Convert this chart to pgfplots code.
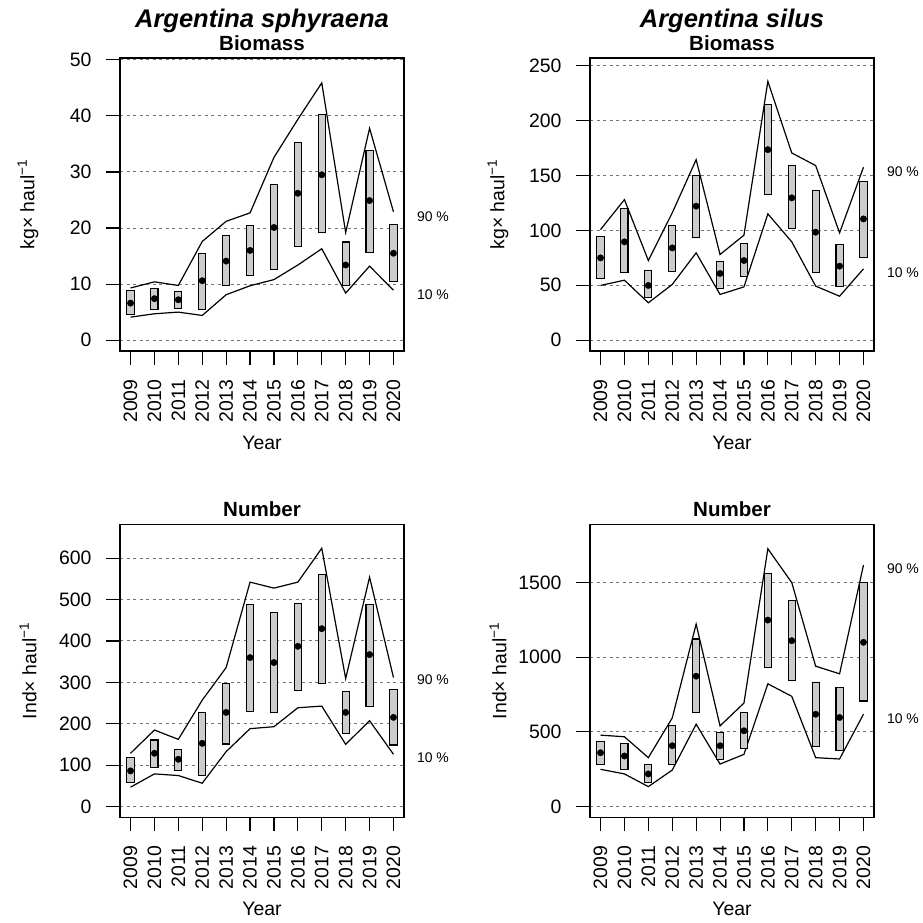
\documentclass[border=0pt]{standalone}
\usepackage{fontspec}
\setmainfont{Liberation Sans}
\usepackage{pgfplots}
\usepackage{pgfplotstable}
\pgfplotsset{compat=1.18}

\definecolor{boxgray}{gray}{0.8}
\definecolor{gridgray}{gray}{0.45}

% box from lower (#2) to upper (#3) value at category position #1 (0 = 2009)
\newcommand{\bx}[3]{%
  \pgfmathsetmacro\xl{#1-0.15}\pgfmathsetmacro\xr{#1+0.15}%
  \addplot[draw=black, line width=1.1bp, fill=boxgray, mark=none]
    coordinates {(\xl,#2) (\xr,#2) (\xr,#3) (\xl,#3)} --cycle;}

% i: 0=2009 ... 11=2020
\pgfplotstableread{
i mid p10 p90
0 6.6 4.1 9.3
1 7.4 4.7 10.4
2 7.2 5.0 9.75
3 10.6 4.4 17.6
4 14.1 8.1 21.2
5 16.0 9.7 22.7
6 20.1 10.8 32.6
7 26.2 13.4 39.4
8 29.5 16.3 45.9
9 13.4 8.4 19.2
10 24.9 13.2 37.8
11 15.5 8.9 22.9
}\tA
\pgfplotstableread{
i mid p10 p90
0 74.9 49.8 100.7
1 89.5 54.6 128.0
2 49.8 34.0 72.5
3 84.0 50.7 115.9
4 122.0 79.5 164.4
5 60.7 41.6 78.0
6 72.5 48.5 95.6
7 173.5 115.0 235.7
8 129.6 89.5 170.5
9 98.3 49.2 159.0
10 67.4 40.0 97.7
11 110.4 64.9 157.5
}\tB
\pgfplotstableread{
i mid p10 p90
0 86 46.6 128.5
1 128.5 78.7 184.7
2 114 74.7 162.2
3 152.6 56.2 257
4 227.3 132.5 335.7
5 359.8 188 542.2
6 347.8 192.8 527.7
7 387.1 238.6 542.2
8 429.7 242.6 624.1
9 227.3 150.2 309.2
10 367.1 207.2 554.2
11 215.3 126.1 311.6
}\tC
\pgfplotstableread{
i mid p10 p90
0 360 249 478
1 338 218 467
2 218 133 327
3 407 244 593
4 873 551 1222
5 407 284 540
6 507 349 693
7 1249 822 1727
8 1111 738 1500
9 618 327 940
10 596 318 889
11 1100 618 1618
}\tD

\pgfplotsset{
  panel/.style={
    width=284bp, height=293bp, scale only axis,
    xmin=-0.44, xmax=11.44,
    xtick={0,...,11},
    xticklabels={2009,2010,2011,2012,2013,2014,2015,2016,2017,2018,2019,2020},
    tick align=outside, major tick length=14bp,
    xtick pos=left, ytick pos=left,
    axis line style={line width=1.1bp},
    every tick/.style={black, line width=1.1bp},
    ymajorgrids,
    major grid style={gridgray, dash pattern=on 3bp off 3.5bp, line width=1bp},
    tick label style={font=\fontsize{19.5}{20}\selectfont},
    yticklabel style={xshift=-11bp},
    xticklabel style={yshift=-11bp, rotate=90, anchor=east},
    /pgf/number format/1000 sep={},
    /pgf/number format/assume math mode=true,
    label style={font=\fontsize{19.5}{22}\selectfont},
    xlabel={Year},
    xlabel style={at={(0.5,-0.314)}, anchor=center},
    ylabel style={at={(-0.324,0.5)}, anchor=center},
    title style={at={(0.5,1.031)}, anchor=center, inner sep=0pt,
      font=\bfseries\fontsize{20.6}{22}\selectfont},
    clip=false,
  },
  pline/.style={black, line width=1.2bp, mark=none},
  pdot/.style={black, only marks, mark=*, mark size=3.2bp},
}
\newcommand{\pct}[2]{%
  \node[font=\fontsize{14}{16}\selectfont] at (axis cs:12.65,#1) {90 \%};
  \node[font=\fontsize{14}{16}\selectfont] at (axis cs:12.65,#2) {10 \%};}
\newcommand{\species}[1]{%
  \node[inner sep=0pt, font=\bfseries\itshape\fontsize{25.6}{28}\selectfont]
    at (rel axis cs:0.5,1.128) {#1};}

\begin{document}
\begin{tikzpicture}
\useasboundingbox (0,0) rectangle (923bp,923bp);

% Panel 1
\begin{axis}[panel, at={(120bp,572bp)}, anchor=south west,
  ymin=-1.94, ymax=50.34, ytick={0,10,...,50},
  title={Biomass}, ylabel={kg× haul\textsuperscript{−1}}]
\addplot[pline] table[x=i,y=p90] {\tA};
\addplot[pline] table[x=i,y=p10] {\tA};
\bx{0}{4.5}{8.9}
\bx{1}{5.4}{9.2}
\bx{2}{5.7}{8.6}
\bx{3}{5.4}{15.5}
\bx{4}{9.7}{18.6}
\bx{5}{11.5}{20.4}
\bx{6}{12.6}{27.8}
\bx{7}{16.7}{35.2}
\bx{8}{19.2}{40.2}
\bx{9}{9.7}{17.5}
\bx{10}{15.7}{33.9}
\bx{11}{10.4}{20.7}
\addplot[pdot] table[x=i,y=mid] {\tA};
\pct{22.1}{8.1}
\species{Argentina sphyraena}
\end{axis}

% Panel 2
\begin{axis}[panel, at={(590bp,572bp)}, anchor=south west,
  ymin=-9.9, ymax=257, ytick={0,50,...,250},
  title={Biomass}, ylabel={kg× haul\textsuperscript{−1}}]
\addplot[pline] table[x=i,y=p90] {\tB};
\addplot[pline] table[x=i,y=p10] {\tB};
\bx{0}{55.8}{94.1}
\bx{1}{61.2}{119.5}
\bx{2}{38.5}{63.4}
\bx{3}{62.8}{104.4}
\bx{4}{93.8}{150.2}
\bx{5}{47.0}{71.9}
\bx{6}{57.6}{88.3}
\bx{7}{132.3}{214.8}
\bx{8}{101.3}{159.3}
\bx{9}{61.9}{136.5}
\bx{10}{48.5}{86.8}
\bx{11}{74.9}{144.1}
\addplot[pdot] table[x=i,y=mid] {\tB};
\pct{153.8}{61.3}
\species{Argentina silus}
\end{axis}

% Panel 3
\begin{axis}[panel, at={(120bp,105.7bp)}, anchor=south west,
  ymin=-26.2, ymax=682, ytick={0,100,...,600},
  title={Number}, ylabel={Ind× haul\textsuperscript{−1}}]
\addplot[pline] table[x=i,y=p90] {\tC};
\addplot[pline] table[x=i,y=p10] {\tC};
\bx{0}{58.6}{118}
\bx{1}{94}{160.6}
\bx{2}{86.7}{137.3}
\bx{3}{74.7}{227.3}
\bx{4}{151}{297.2}
\bx{5}{230.5}{487.6}
\bx{6}{226.5}{468.3}
\bx{7}{281.1}{491.6}
\bx{8}{297.2}{561.4}
\bx{9}{176.7}{277.1}
\bx{10}{242.6}{487.6}
\bx{11}{148.6}{282}
\addplot[pdot] table[x=i,y=mid] {\tC};
\pct{305.2}{118}
\end{axis}

% Panel 4
\begin{axis}[panel, at={(590bp,105.7bp)}, anchor=south west,
  ymin=-72.7, ymax=1891, ytick={0,500,1000,1500},
  title={Number}, ylabel={Ind× haul\textsuperscript{−1}}]
\addplot[pline] table[x=i,y=p90] {\tD};
\addplot[pline] table[x=i,y=p10] {\tD};
\bx{0}{284}{433}
\bx{1}{249}{422}
\bx{2}{162}{284}
\bx{3}{284}{540}
\bx{4}{627}{1122}
\bx{5}{316}{496}
\bx{6}{389}{627}
\bx{7}{929}{1562}
\bx{8}{844}{1382}
\bx{9}{404}{833}
\bx{10}{378}{800}
\bx{11}{707}{1498}
\addplot[pdot] table[x=i,y=mid] {\tD};
\pct{1596}{589}
\end{axis}
\end{tikzpicture}
\end{document}
